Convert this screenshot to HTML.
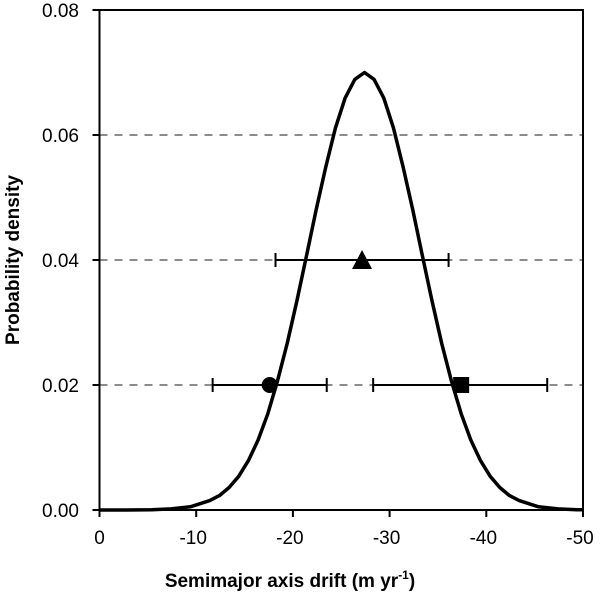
<!DOCTYPE html>
<html><head><meta charset="utf-8"><style>
body{margin:0;background:#fff}
svg{display:block;font-family:"Liberation Sans",Arial,sans-serif}
</style></head><body>
<svg id="chart" width="600" height="596" viewBox="0 0 600 596">
<g id="grid"></g>
<g id="axes"></g>
<g id="series"></g>
<text x="290" y="587" text-anchor="middle" font-size="19" font-weight="bold">Semimajor axis drift (m yr<tspan font-size="12" dy="-8">-1</tspan><tspan dy="8">)</tspan></text>
<text transform="translate(19,260) rotate(-90)" text-anchor="middle" font-size="19" font-weight="bold">Probability density</text>
</svg>
<script>
const xTicks=[0,-10,-20,-30,-40,-50];
const yTicks=[0,0.02,0.04,0.06,0.08];
const yTickLabels=["0.00","0.02","0.04","0.06","0.08"];
const gridValues=[0.02,0.04,0.06];
const curveX=[0,-2.4,-5.4,-7.4,-9.4,-11.4,-12.4,-13.4,-14.4,-15.4,-16.4,-17.4,-18.4,-19.4,-20.4,-21.4,-22.4,-23.4,-24.4,-25.4,-26.4,-27.4,-28.4,-29.4,-30.4,-31.4,-32.4,-33.4,-34.4,-35.4,-36.4,-37.4,-38.4,-39.4,-40.4,-41.4,-42.4,-43.4,-45.4,-47.4,-49.4,-50];
const curveY=[0,0.000005,0.00005,0.00017,0.00052,0.0015,0.0023,0.0036,0.0054,0.0079,0.0112,0.0154,0.0206,0.0266,0.0334,0.0406,0.0480,0.0549,0.0611,0.0659,0.0689,0.0700,0.0689,0.0659,0.0611,0.0549,0.0480,0.0406,0.0334,0.0266,0.0206,0.0154,0.0112,0.0079,0.0054,0.0036,0.0023,0.0015,0.00052,0.00017,0.00005,0.00003];
const markerNames=["circle","triangle","square"];
const markerX=[-17.6,-27.15,-37.4];
const markerY=[0.02,0.04,0.02];
const errLow=[-11.7,-18.2,-28.3];
const errHigh=[-23.5,-36.1,-46.3];

const X0=99.5,X1=583,Y0=510,Y1=10;
const sx=v=>X0+(v-0)/(-50-0)*(X1-X0);
const sy=v=>Y0+(v-0)/(0.08-0)*(Y1-Y0);
const NS="http://www.w3.org/2000/svg";
function mk(parent,tag,attrs){const e=document.createElementNS(NS,tag);for(const k in attrs)e.setAttribute(k,attrs[k]);document.getElementById(parent).appendChild(e);return e;}

gridValues.forEach(v=>{
  const l=mk("grid","line",{x1:X0,x2:X1,y1:sy(v),y2:sy(v),stroke:"#8c8c8c","stroke-width":2,"stroke-dasharray":"8,7"});
  
  
});
const frame=mk("axes","rect",{x:X0,y:Y1,width:X1-X0,height:Y0-Y1,fill:"none",stroke:"#000","stroke-width":2});


yTicks.forEach((v,i)=>{
  const t=mk("axes","line",{x1:X0-7,x2:X0,y1:sy(v),y2:sy(v),stroke:"#000","stroke-width":2});
  
  
  const tx=mk("axes","text",{x:79,y:sy(v)+7,"text-anchor":"end","font-size":19});
  tx.textContent=yTickLabels[i];
  
  
});
xTicks.forEach(v=>{
  const t=mk("axes","line",{x1:sx(v),x2:sx(v),y1:Y0,y2:Y0+7,stroke:"#000","stroke-width":2});
  
  
  const tx=mk("axes","text",{x:sx(v)-(v<0?3:0),y:544,"text-anchor":"middle","font-size":19});
  tx.textContent=String(v);
  
  
});
let d="";
curveX.forEach((v,i)=>{d+=(i?"L":"M")+sx(v).toFixed(1)+","+sy(curveY[i]).toFixed(1);});
const p=mk("series","path",{d:d,fill:"none",stroke:"#000","stroke-width":3.5,"stroke-linejoin":"round"});


markerX.forEach((v,i)=>{
  const y=sy(markerY[i]);
  const e=mk("series","line",{x1:sx(errLow[i]),x2:sx(errHigh[i]),y1:y,y2:y,stroke:"#000","stroke-width":2});
  
  
  [errLow[i],errHigh[i]].forEach(c=>{
    const cap=mk("series","line",{x1:sx(c),x2:sx(c),y1:y-7,y2:y+7,stroke:"#000","stroke-width":2});
    
    
  });
  const x=sx(v);let m;
  if(markerNames[i]==="circle")m=mk("series","circle",{cx:x,cy:y,r:8,fill:"#000"});
  else if(markerNames[i]==="triangle")m=mk("series","polygon",{points:`${x},${y-10} ${x-10},${y+9} ${x+10},${y+9}`,fill:"#000"});
  else m=mk("series","rect",{x:x-8,y:y-8,width:16,height:16,fill:"#000"});
  
  
});
</script>
</body></html>
